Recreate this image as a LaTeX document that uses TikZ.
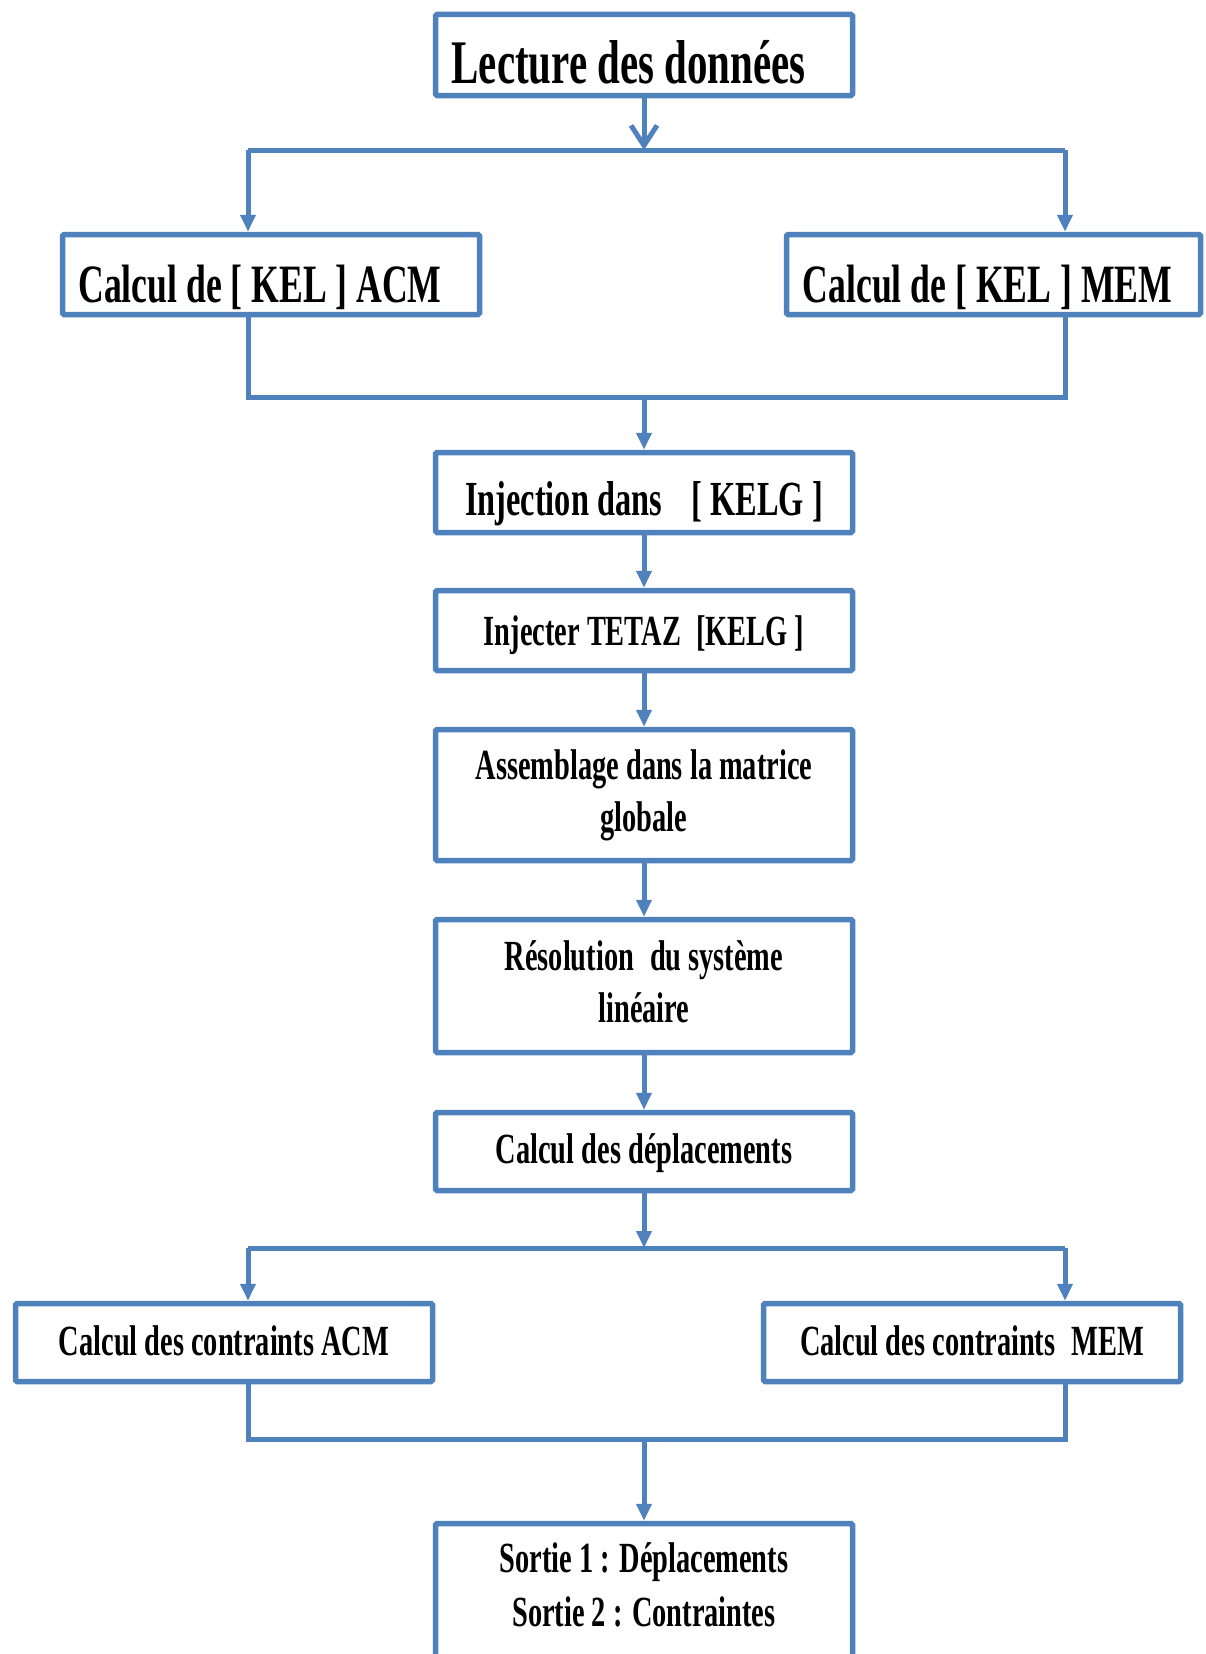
\documentclass[tikz,border=0pt]{standalone}
\usepackage{fontspec}
\setmainfont[FakeStretch=0.66]{Liberation Serif}
\usetikzlibrary{arrows.meta}
\definecolor{bl}{HTML}{4F81BD}
\newcommand\fsz[2]{\fontsize{#1pt}{#2pt}\selectfont}
\tikzset{
  box/.style={draw=bl, line width=5.5pt, rectangle, rounded corners=1.5pt, inner sep=0pt,
    minimum width=417pt, font=\bfseries\fsz{43}{52}},
  fline/.style={draw=bl, line width=5pt},
  arr/.style={fline, -{Triangle[length=17pt,width=15pt]}},
  barb/.style={fline, -{Straight Barb[length=20pt,width=26pt]}},
}
\begin{document}
\begin{tikzpicture}[x=1pt,y=-1pt]
\useasboundingbox (0,0) rectangle (1205,1654);
\clip (0,0) rectangle (1205,1654);

% boxes
\node[box, font=\bfseries\fsz{62}{70}, minimum height=81pt, text height=56pt, text depth=0pt]
  (lect) at (644,55) {Lecture des données\hspace{31pt}\mbox{}};
\node[box, font=\bfseries\fsz{54}{62}, minimum height=80pt, text height=55pt, text depth=0pt]
  (kacm) at (271,274.5) {Calcul de [ KEL ] ACM\hspace{22pt}\mbox{}};
\node[box, font=\bfseries\fsz{54}{62}, minimum width=414pt, minimum height=80pt, text height=55pt, text depth=0pt]
  (kmem) at (993.5,274.5) {Calcul de [ KEL ] MEM\hspace{12pt}\mbox{}};
\node[box, font=\bfseries\fsz{49}{56}, minimum height=80pt, text height=45pt, text depth=0pt]
  (inj) at (644,492.5) {Injection dans\hspace{30pt}[ KELG ]};
\node[box, minimum height=80pt, text height=29pt, text depth=0pt]
  (injt) at (644,630.5) {Injecter TETAZ\hspace{15pt}[KELG ]};
\node[box, align=center, minimum height=131pt]
  (asm) at (644,795) {Assemblage dans la matrice\\globale};
\node[box, align=center, minimum height=133pt]
  (res) at (644,986) {Résolution\hspace{16pt}du système\\linéaire\vphantom{g}};
\node[box, minimum height=78pt, text height=23pt, text depth=0pt]
  (dep) at (644,1151.5) {Calcul des déplacements};
\node[box, minimum height=78pt, text height=25pt, text depth=0pt]
  (cacm) at (224,1342.5) {Calcul des contraints ACM};
\node[box, minimum height=78pt, text height=25pt, text depth=0pt]
  (cmem) at (972,1342.5) {Calcul des contraints\hspace{16pt}MEM};
\node[box, minimum height=200pt] (out) at (644,1623.5) {};
\node[font=\bfseries\fsz{43}{54}, align=center, anchor=north, inner sep=0pt]
  (outtxt) at (644,1542) {Sortie 1 : Déplacements\\Sortie 2 : Contraintes};

% coordinates
\coordinate (sa) at (644,150);
\coordinate (sal) at (248,150);
\coordinate (sar) at (1065,150);
\coordinate (ja) at (644,397);
\coordinate (jal) at (248,397);
\coordinate (jar) at (1065,397);
\coordinate (sb) at (644,1248);
\coordinate (sbl) at (248,1248);
\coordinate (sbr) at (1065,1248);
\coordinate (jb) at (644,1439);
\coordinate (jbl) at (248,1439);
\coordinate (jbr) at (1065,1439);

% top split
\draw[barb] (lect) -- (sa);
\draw[fline] (sal) -- (sar);
\draw[arr] (sal) -- (sal |- kacm.north);
\draw[arr] (sar) -- (sar |- kmem.north);
% top join
\draw[fline] (sal |- kacm.south) -- (jal) -- (jar) -- (sar |- kmem.south);
\draw[arr] (ja) -- (inj);
% chain
\draw[arr] (inj) -- (injt);
\draw[arr] (injt) -- (asm);
\draw[arr] (asm) -- (res);
\draw[arr] (res) -- (dep);
\draw[arr] (dep) -- (sb);
% bottom split
\draw[fline] (sbl) -- (sbr);
\draw[arr] (sbl) -- (sbl |- cacm.north);
\draw[arr] (sbr) -- (sbr |- cmem.north);
% bottom join
\draw[fline] (sbl |- cacm.south) -- (jbl) -- (jbr) -- (sbr |- cmem.south);
\draw[arr] (jb) -- (out);
\end{tikzpicture}
\end{document}
